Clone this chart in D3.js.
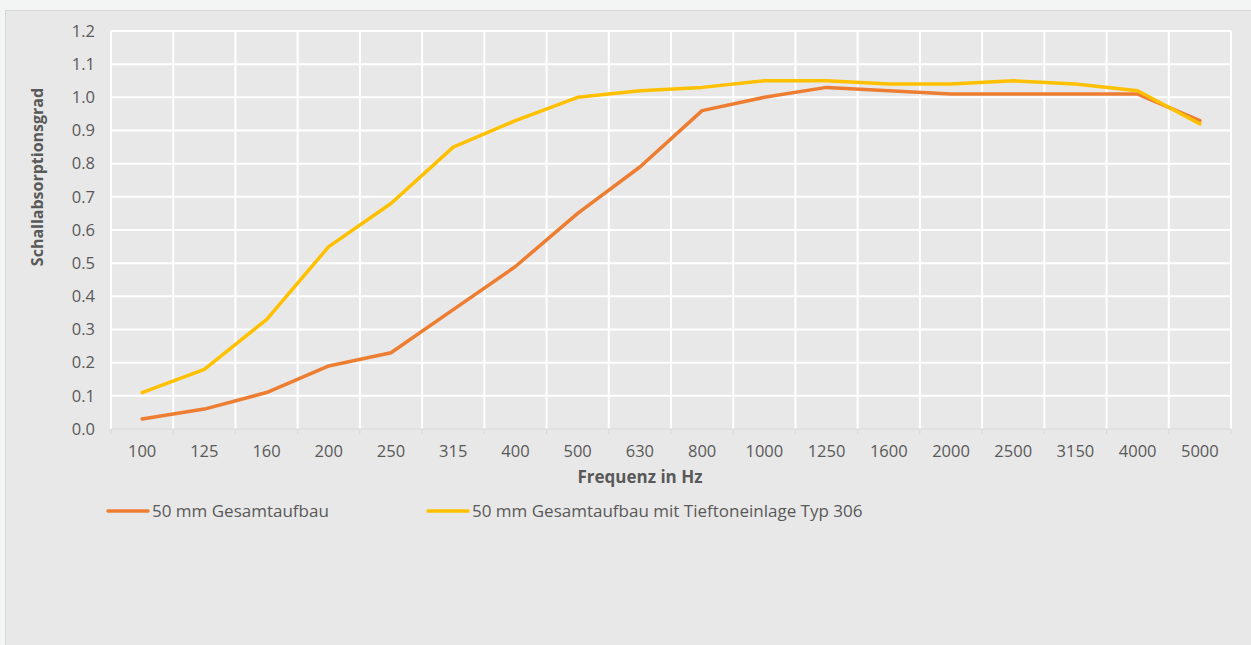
<!DOCTYPE html>
<html><head><meta charset="utf-8">
<script src="https://cdn.jsdelivr.net/npm/d3@7"></script>
<style>
html,body{margin:0;padding:0;background:#f3f4f4;}
svg{display:block;}
text{font-family:"Open Sans",sans-serif;}
</style></head>
<body>
<svg id="c" width="1251" height="645"></svg>
<script>
const categories = ["100","125","160","200","250","315","400","500","630","800","1000","1250","1600","2000","2500","3150","4000","5000"];
const seriesOrange = [0.03,0.06,0.11,0.19,0.23,0.36,0.49,0.65,0.79,0.96,1.00,1.03,1.02,1.01,1.01,1.01,1.01,0.93];
const seriesYellow = [0.11,0.18,0.33,0.55,0.68,0.85,0.93,1.00,1.02,1.03,1.05,1.05,1.04,1.04,1.05,1.04,1.02,0.92];
const yTicks = [0,0.1,0.2,0.3,0.4,0.5,0.6,0.7,0.8,0.9,1.0,1.1,1.2];
const seriesNames = ["50 mm Gesamtaufbau","50 mm Gesamtaufbau mit Tieftoneinlage Typ 306"];

const svg = d3.select("#c");
svg.append("rect").attr("x",5.5).attr("y",10.5).attr("width",1250).attr("height",640)
  .attr("fill","#e8e8e8").attr("stroke","#d6d6d6");

const L=111,R=1231,T=31,B=429;
const x = d3.scaleBand().domain(categories).range([L,R]);
const y = d3.scaleLinear().domain([0,1.2]).range([B,T]);

const g = svg.append("g");
g.selectAll(".hg").data(yTicks.filter(d=>d>0)).enter().append("line")
  .attr("x1",L).attr("x2",R).attr("y1",d=>y(d)).attr("y2",d=>y(d))
  .attr("stroke","#ffffff").attr("stroke-width",2);
const bounds = categories.map(c=>x(c)).concat([R]);
g.selectAll(".vg").data(bounds).enter().append("line")
  .attr("x1",d=>d).attr("x2",d=>d).attr("y1",T).attr("y2",B)
  .attr("stroke","#ffffff").attr("stroke-width",2);
g.append("line").attr("x1",L).attr("x2",R).attr("y1",B).attr("y2",B).attr("stroke","#d9d9d9").attr("stroke-width",1);
g.selectAll(".tk").data(bounds).enter().append("line")
  .attr("x1",d=>d).attr("x2",d=>d).attr("y1",B).attr("y2",B+5).attr("stroke","#d9d9d9");

g.selectAll(".yl").data(yTicks).enter().append("text")
  .attr("x",95).attr("y",d=>y(d)).attr("dy","0.35em").attr("text-anchor","end")
  .attr("font-size",16.5).attr("fill","#595959").text(d=>d.toFixed(1));
g.selectAll(".xl").data(categories).enter().append("text")
  .attr("x",d=>x(d)+x.bandwidth()/2).attr("y",451).attr("dy","0.35em").attr("text-anchor","middle")
  .attr("font-size",16.5).attr("fill","#595959").text(d=>d);

svg.append("text").attr("x",640).attr("y",477).attr("dy","0.35em").attr("text-anchor","middle")
  .attr("font-size",17).attr("font-weight","bold").attr("fill","#595959").text("Frequenz in Hz");
svg.append("text").attr("transform","translate(37,177) rotate(-90)").attr("dy","0.35em").attr("text-anchor","middle")
  .attr("font-size",16).attr("font-weight","bold").attr("fill","#595959").text("Schallabsorptionsgrad");

const line = d3.line().x((d,i)=>x(categories[i])+x.bandwidth()/2).y(d=>y(d));
svg.append("path").datum(seriesOrange).attr("d",line).attr("fill","none").attr("stroke","#ed7d31").attr("stroke-width",3.5).attr("stroke-linejoin","round").attr("stroke-linecap","round");
svg.append("path").datum(seriesYellow).attr("d",line).attr("fill","none").attr("stroke","#ffc000").attr("stroke-width",3.5).attr("stroke-linejoin","round").attr("stroke-linecap","round");

const leg = [{x:108,c:"#ed7d31",n:seriesNames[0]},{x:428,c:"#ffc000",n:seriesNames[1]}];
leg.forEach(l=>{
  svg.append("line").attr("x1",l.x).attr("x2",l.x+40).attr("y1",511).attr("y2",511).attr("stroke",l.c).attr("stroke-width",3.5).attr("stroke-linecap","round");
  svg.append("text").attr("x",l.x+44).attr("y",511).attr("dy","0.35em").attr("font-size",17).attr("fill","#595959").text(l.n);
});
</script>
</body></html>
